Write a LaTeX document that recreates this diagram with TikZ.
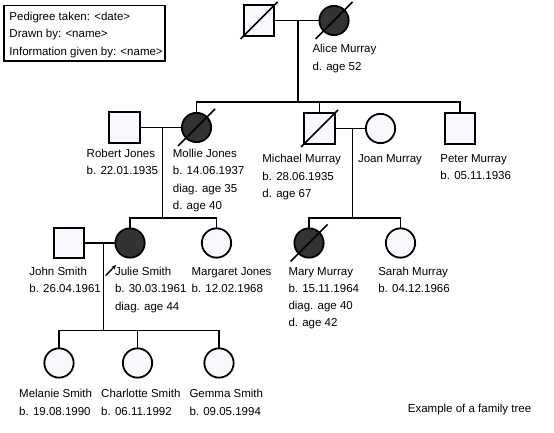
\documentclass[tikz,border=0pt]{standalone}
\usepackage{fontspec}
\setmainfont{Liberation Sans}
\usetikzlibrary{arrows.meta}
\definecolor{lightfill}{HTML}{F7F9FD}
\definecolor{darkfill}{HTML}{333333}
\begin{document}
\begin{tikzpicture}[x=1bp,y=-1bp,
  male/.style={rectangle,draw,fill=lightfill,line width=1.8bp,minimum size=30.5bp,inner sep=0pt,outer sep=0pt},
  female/.style={circle,draw,fill=lightfill,line width=1.8bp,minimum size=29.3bp,inner sep=0pt,outer sep=0pt},
  affected/.style={fill=darkfill},
  slash/.style={line width=1.6bp},
  link/.style={line width=1.3bp},
  lbl/.style={anchor=north west,inner sep=0pt,align=left,font=\fontsize{11.5bp}{17.3bp}\selectfont},
  infolbl/.style={anchor=north west,inner sep=0pt,align=left,font=\fontsize{11.5bp}{17.6bp}\selectfont},
  infobox/.style={draw,line width=1.3bp,fill=white},
]
\useasboundingbox (0,0) rectangle (554,433);

% info box
\draw[infobox] (4,5.7) rectangle (165,61);
\node[infolbl] (info) at (9.3,11.6) {Pedigree taken: <date>\\Drawn by: <name>\\Information given by: <name>};

% generation I
\node[male] (gf) at (259,20.5) {};
\node[female,affected] (alice) at (334,20.5) {};
% generation II
\node[male] (robert) at (124.5,127.5) {};
\node[female,affected] (mollie) at (196.5,127.5) {};
\node[male] (michael) at (319.5,128.5) {};
\node[female] (joan) at (380.5,128.5) {};
\node[male] (peter) at (460,128.5) {};
% generation III
\node[male] (john) at (69,243) {};
\node[female,affected] (julie) at (130,243) {};
\node[female] (margaret) at (216.5,243) {};
\node[female,affected] (mary) at (309,243) {};
\node[female] (sarah) at (400.5,243) {};
% generation IV
\node[female] (melanie) at (59,363) {};
\node[female] (charlotte) at (137.5,363) {};
\node[female] (gemma) at (219,363) {};

% deceased slashes
\foreach \n in {gf,alice,mollie,michael,mary}
  \draw[slash] (\n.center) ++(-18.5,18.5) -- ++(37,-37);

% couple I
\coordinate (m1) at (298,20.5);
\coordinate (s1) at (298,102);
\draw[link] (gf.east) -- (alice.west);
\draw[link] (m1) -- (s1);
\draw[link] (mollie.north) -- (mollie.north |- s1) -- (peter.north |- s1) -- (peter.north);
\draw[link] (michael.north) -- (michael.north |- s1);

% couple Robert / Mollie
\coordinate (m2) at (162.5,127.5);
\coordinate (s2) at (162.5,218);
\draw[link] (robert.east) -- (mollie.west);
\draw[link] (m2) -- (s2);
\draw[link] (julie.north) -- (julie.north |- s2) -- (margaret.north |- s2) -- (margaret.north);

% couple Michael / Joan
\coordinate (m3) at (352.5,128.5);
\coordinate (s3) at (352.5,218);
\draw[link] (michael.east) -- (joan.west);
\draw[link] (m3) -- (s3);
\draw[link] (mary.north) -- (mary.north |- s3) -- (sarah.north |- s3) -- (sarah.north);

% couple John / Julie
\coordinate (m4) at (103.5,243);
\coordinate (s4) at (103.5,330.5);
\draw[link] (john.east) -- (julie.west);
\draw[link] (m4) -- (s4);
\draw[link] (melanie.north) -- (melanie.north |- s4) -- (gemma.north |- s4) -- (gemma.north);
\draw[link] (charlotte.north) -- (charlotte.north |- s4);

% proband arrow
\coordinate (pa) at (105.7,275.5);
\coordinate (pb) at (116,265);
\draw[link,-{Stealth[length=4.5bp,width=4bp]}] (pa) -- (pb);

% labels
\node[lbl] (talice) at (312.3,44.2) {Alice Murray\\d. age 52};
\node[lbl] (trobert) at (86.5,148.9) {Robert Jones\\b. 22.01.1935};
\node[lbl] (tmollie) at (172.7,148.9) {Mollie Jones\\b. 14.06.1937\\diag. age 35\\d. age 40};
\node[lbl] (tmichael) at (262.2,154.2) {Michael Murray\\b. 28.06.1935\\d. age 67};
\node[lbl] (tjoan) at (357.8,154.2) {Joan Murray};
\node[lbl] (tpeter) at (440.2,154.2) {Peter Murray\\b. 05.11.1936};
\node[lbl] (tjohn) at (29.2,266.9) {John Smith\\b. 26.04.1961};
\node[lbl] (tjulie) at (114.8,266.9) {Julie Smith\\b. 30.03.1961\\diag. age 44};
\node[lbl] (tmargaret) at (191.4,266.9) {Margaret Jones\\b. 12.02.1968};
\node[lbl] (tmary) at (288.3,266.9) {Mary Murray\\b. 15.11.1964\\diag. age 40\\d. age 42};
\node[lbl] (tsarah) at (378.1,266.9) {Sarah Murray\\b. 04.12.1966};
\node[lbl] (tmelanie) at (19,389.2) {Melanie Smith\\b. 19.08.1990};
\node[lbl] (tcharlotte) at (101,389.2) {Charlotte Smith\\b. 06.11.1992};
\node[lbl] (tgemma) at (189.3,389.2) {Gemma Smith\\b. 09.05.1994};
\node[lbl] (caption) at (407.7,404.2) {Example of a family tree};
\end{tikzpicture}
\end{document}
